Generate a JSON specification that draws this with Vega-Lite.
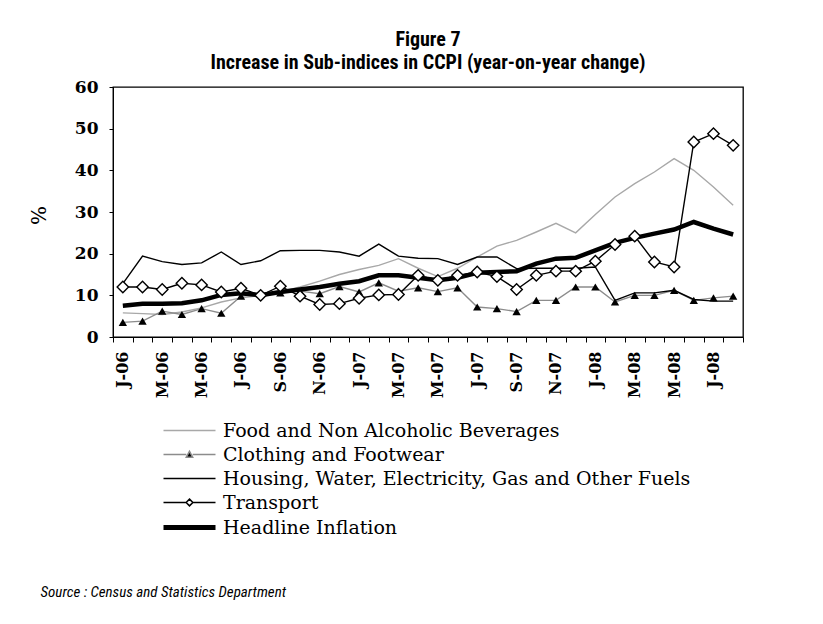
{
  "$schema": "https://vega.github.io/schema/vega-lite/v6.json",
  "width": 630,
  "height": 250,
  "autosize": "none",
  "padding": {"left": 113, "top": 87, "right": 80, "bottom": 287},
  "background": "white",
  "title": {
    "text": ["Figure 7", "Increase in Sub-indices in CCPI (year-on-year change)"],
    "font": "Liberation Sans Narrow, Roboto Condensed, DejaVu Sans Condensed, Roboto, sans-serif",
    "fontSize": 20,
    "fontWeight": "bold",
    "color": "black",
    "anchor": "middle",
    "lineHeight": 23,
    "offset": 5
  },
  "config": {
    "view": {"stroke": "black", "strokeWidth": 1.3},
    "axis": {"domainColor": "black", "tickColor": "black", "labelColor": "black", "titleColor": "black", "grid": false}
  },
  "data": {
    "values": [
      {"m": "2006-01", "food": 5.8, "cloth": 3.5, "house": 12.8, "trans": 12.0, "head": 7.5},
      {"m": "2006-02", "food": 5.6, "cloth": 3.8, "house": 19.4, "trans": 12.0, "head": 8.0},
      {"m": "2006-03", "food": 5.4, "cloth": 6.2, "house": 18.1, "trans": 11.4, "head": 8.0},
      {"m": "2006-04", "food": 6.0, "cloth": 5.4, "house": 17.4, "trans": 12.9, "head": 8.1},
      {"m": "2006-05", "food": 7.0, "cloth": 6.8, "house": 17.8, "trans": 12.5, "head": 8.8},
      {"m": "2006-06", "food": 8.4, "cloth": 5.7, "house": 20.4, "trans": 10.8, "head": 10.1},
      {"m": "2006-07", "food": 9.4, "cloth": 9.8, "house": 17.4, "trans": 11.7, "head": 10.5},
      {"m": "2006-08", "food": 10.0, "cloth": 10.2, "house": 18.3, "trans": 10.0, "head": 10.0},
      {"m": "2006-09", "food": 10.8, "cloth": 10.6, "house": 20.7, "trans": 12.2, "head": 10.8},
      {"m": "2006-10", "food": 12.0, "cloth": 11.0, "house": 20.8, "trans": 9.8, "head": 11.4},
      {"m": "2006-11", "food": 13.4, "cloth": 10.4, "house": 20.8, "trans": 7.8, "head": 12.0},
      {"m": "2006-12", "food": 15.0, "cloth": 12.1, "house": 20.4, "trans": 8.0, "head": 12.8},
      {"m": "2007-01", "food": 16.2, "cloth": 10.8, "house": 19.4, "trans": 9.3, "head": 13.4},
      {"m": "2007-02", "food": 17.2, "cloth": 13.0, "house": 22.3, "trans": 10.1, "head": 14.8},
      {"m": "2007-03", "food": 18.8, "cloth": 11.0, "house": 19.4, "trans": 10.2, "head": 14.8},
      {"m": "2007-04", "food": 16.5, "cloth": 11.8, "house": 18.9, "trans": 14.8, "head": 14.2},
      {"m": "2007-05", "food": 14.5, "cloth": 10.9, "house": 18.8, "trans": 13.6, "head": 13.6},
      {"m": "2007-06", "food": 16.5, "cloth": 11.8, "house": 17.4, "trans": 14.8, "head": 14.2},
      {"m": "2007-07", "food": 19.2, "cloth": 7.2, "house": 19.2, "trans": 15.6, "head": 15.4},
      {"m": "2007-08", "food": 21.8, "cloth": 6.8, "house": 19.2, "trans": 14.5, "head": 15.6},
      {"m": "2007-09", "food": 23.2, "cloth": 6.1, "house": 16.4, "trans": 11.4, "head": 15.8},
      {"m": "2007-10", "food": 25.2, "cloth": 8.8, "house": 16.5, "trans": 14.8, "head": 17.6},
      {"m": "2007-11", "food": 27.3, "cloth": 8.8, "house": 16.5, "trans": 15.8, "head": 18.8},
      {"m": "2007-12", "food": 25.0, "cloth": 12.0, "house": 16.5, "trans": 15.8, "head": 19.0},
      {"m": "2008-01", "food": 29.4, "cloth": 12.0, "house": 16.8, "trans": 18.2, "head": 20.8},
      {"m": "2008-02", "food": 33.6, "cloth": 8.4, "house": 8.8, "trans": 22.2, "head": 22.6},
      {"m": "2008-03", "food": 36.8, "cloth": 10.0, "house": 10.6, "trans": 24.2, "head": 23.8},
      {"m": "2008-04", "food": 39.6, "cloth": 10.0, "house": 10.6, "trans": 18.0, "head": 24.8},
      {"m": "2008-05", "food": 42.8, "cloth": 11.2, "house": 11.2, "trans": 16.8, "head": 25.8},
      {"m": "2008-06", "food": 40.0, "cloth": 8.8, "house": 9.0, "trans": 46.8, "head": 27.6},
      {"m": "2008-07", "food": 36.0, "cloth": 9.4, "house": 8.6, "trans": 48.8, "head": 26.0},
      {"m": "2008-08", "food": 31.6, "cloth": 9.8, "house": 8.6, "trans": 46.0, "head": 24.6}
    ]
  },
  "transform": [
    {"fold": ["food", "cloth", "house", "trans", "head"], "as": ["series", "value"]}
  ],
  "encoding": {
    "x": {
      "field": "m",
      "type": "ordinal",
      "scale": {"type": "band", "paddingInner": 0, "paddingOuter": 0},
      "axis": {
        "title": "Source : Census and Statistics Department",
        "titleFont": "Liberation Sans Narrow, Roboto Condensed, DejaVu Sans Condensed, Roboto, sans-serif",
        "titleFontSize": 15,
        "titleFontStyle": "italic",
        "titleFontWeight": "normal",
        "titleX": -73,
        "titleY": 254,
        "titleAlign": "left",
        "titleBaseline": "middle",
        "titleAngle": 0,
        "labelAngle": 270,
        "labelFont": "DejaVu Serif",
        "labelFontSize": 16,
        "labelFontWeight": "bold",
        "labelPadding": 9,
        "labelOverlap": false,
        "tickSize": 5,
        "tickBand": "extent",
        "labelExpr": "(toNumber(substring(datum.value,5,7)) % 2 == 1) ? substring('JFMAMJJASOND', toNumber(substring(datum.value,5,7))-1, toNumber(substring(datum.value,5,7))) + '-' + substring(datum.value,2,4) : ''"
      }
    },
    "y": {
      "field": "value",
      "type": "quantitative",
      "scale": {"domain": [0, 60], "nice": false},
      "axis": {
        "values": [0, 10, 20, 30, 40, 50, 60],
        "title": "%",
        "titleFont": "DejaVu Serif",
        "titleFontSize": 20,
        "titleFontWeight": "normal",
        "titleX": -64,
        "titleY": 128,
        "labelFont": "DejaVu Serif",
        "labelFontSize": 17,
        "labelFontWeight": "bold",
        "labelPadding": 11,
        "tickSize": 4
      }
    }
  },
  "layer": [
    {
      "transform": [{"filter": "datum.series !== 'head'"}],
      "mark": {"type": "line", "strokeWidth": 1.4},
      "encoding": {
        "color": {
          "field": "series",
          "type": "nominal",
          "scale": {
            "domain": ["food", "cloth", "house", "trans", "head"],
            "range": ["#a8a8a8", "#8c8c8c", "#000000", "#000000", "#000000"]
          },
          "legend": {
            "orient": "none",
            "legendX": 50,
            "legendY": 334,
            "title": null,
            "padding": 0,
            "labelFont": "DejaVu Serif",
            "labelFontSize": 19,
            "labelColor": "black",
            "labelLimit": 700,
            "symbolSize": 256,
            "symbolOffset": 17,
            "labelOffset": 24,
            "rowPadding": 4,
            "labelExpr": "datum.value === 'food' ? 'Food and Non Alcoholic Beverages' : datum.value === 'cloth' ? 'Clothing and Footwear' : datum.value === 'house' ? 'Housing, Water, Electricity, Gas and Other Fuels' : datum.value === 'trans' ? 'Transport' : 'Headline Inflation'",
            "encode": {
              "symbols": {
                "update": {
                  "shape": {"signal": "datum.value === 'trans' ? 'M-3.25,0H-0.42M0.42,0H3.25M0,-0.42L0.42,0L0,0.42L-0.42,0Z' : datum.value === 'cloth' ? 'M-3.25,0H-0.4M0.4,0H3.25M-0.4,0.33L0,-0.4L0.4,0.33Z' : 'M-3.25,0H3.25'"},
                  "strokeWidth": {"signal": "datum.value === 'head' ? 5 : 1.5"},
                  "fill": {"signal": "datum.value === 'trans' ? 'white' : datum.value === 'cloth' ? 'black' : 'transparent'"},
                  "opacity": {"value": 1}
                }
              }
            }
          }
        }
      }
    },
    {
      "transform": [{"filter": "datum.series === 'head'"}],
      "mark": {"type": "line", "strokeWidth": 4.5},
      "encoding": {
        "color": {"field": "series", "type": "nominal"}
      }
    },
    {
      "transform": [{"filter": "datum.series === 'cloth'"}],
      "mark": {"type": "point", "shape": "triangle-up", "filled": true, "color": "black", "size": 70, "opacity": 1}
    },
    {
      "transform": [{"filter": "datum.series === 'trans'"}],
      "mark": {"type": "point", "shape": "diamond", "filled": true, "fill": "white", "stroke": "black", "strokeWidth": 1.4, "size": 130, "opacity": 1}
    }
  ]
}
